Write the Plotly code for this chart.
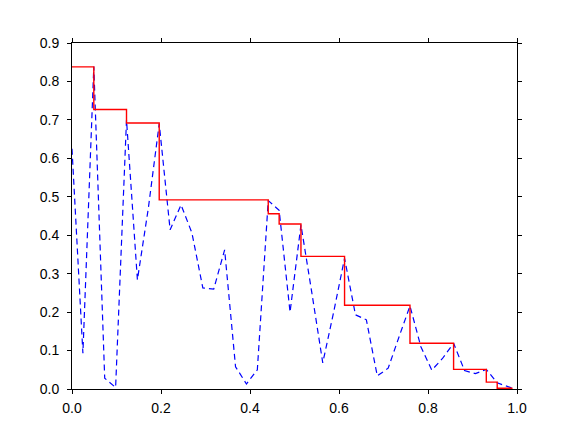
# Recreate the step chart: blue dashed raw curve and red step envelope
import plotly.graph_objs as go

# blue dashed curve (x positions and values)
raw_x = [0.0, 0.0245, 0.049, 0.0735, 0.098, 0.1225, 0.147, 0.1715, 0.196, 0.2205,
         0.245, 0.2695, 0.294, 0.3185, 0.343, 0.3675, 0.392, 0.4165, 0.441, 0.4655,
         0.49, 0.5145, 0.539, 0.5635, 0.588, 0.6125, 0.637, 0.6615, 0.686, 0.7105,
         0.735, 0.7595, 0.784, 0.8085, 0.833, 0.8575, 0.882, 0.9065, 0.931, 0.9555,
         0.99]
raw_y = [0.625, 0.093, 0.839, 0.028, 0.004, 0.70, 0.284, 0.47, 0.69, 0.414,
         0.479, 0.406, 0.263, 0.26, 0.362, 0.058, 0.013, 0.05, 0.49, 0.465,
         0.20, 0.427, 0.25, 0.068, 0.20, 0.34, 0.193, 0.18, 0.034, 0.054,
         0.136, 0.216, 0.11, 0.049, 0.08, 0.119, 0.048, 0.04, 0.051, 0.016,
         0.002]

# red step line (start of each level + final end point)
step_x = [0.0, 0.049, 0.1225, 0.196, 0.441, 0.4655, 0.5145, 0.6125, 0.7595,
          0.8575, 0.931, 0.9555, 0.99]
step_y = [0.838, 0.727, 0.692, 0.492, 0.456, 0.429, 0.345, 0.218, 0.119,
          0.051, 0.018, 0.002, 0.002]

x_ticks = [0.0, 0.2, 0.4, 0.6, 0.8, 1.0]
y_ticks = [0.0, 0.1, 0.2, 0.3, 0.4, 0.5, 0.6, 0.7, 0.8, 0.9]

data = [
    go.Scatter(x=raw_x, y=raw_y, mode='lines',
               line=dict(color='#0000ff', width=1.2, dash='6px,4px')),
    go.Scatter(x=step_x, y=step_y, mode='lines',
               line=dict(color='#ff0000', width=1.4, shape='hv')),
]

axis_style = dict(showline=True, linecolor='black', linewidth=1, mirror='ticks',
                  ticks='outside', ticklen=4, tickcolor='black', tickwidth=1,
                  showgrid=False, zeroline=False, tickformat='.1f')

# the page adds an 8px body margin, so the margins are shifted to compensate
layout = go.Layout(
    width=576, height=432,
    margin=dict(l=64, r=67, t=35, b=51),
    paper_bgcolor='white', plot_bgcolor='white',
    font=dict(family='Liberation Sans, Arial, sans-serif', size=14, color='black'),
    showlegend=False,
    xaxis=dict(range=[0, 1], tickvals=x_ticks, ticklabelstandoff=2, **axis_style),
    yaxis=dict(range=[0, 0.9], tickvals=y_ticks, ticklabelstandoff=5, **axis_style),
)

fig = go.Figure(data=data, layout=layout)
fig.write_html("out.html")
